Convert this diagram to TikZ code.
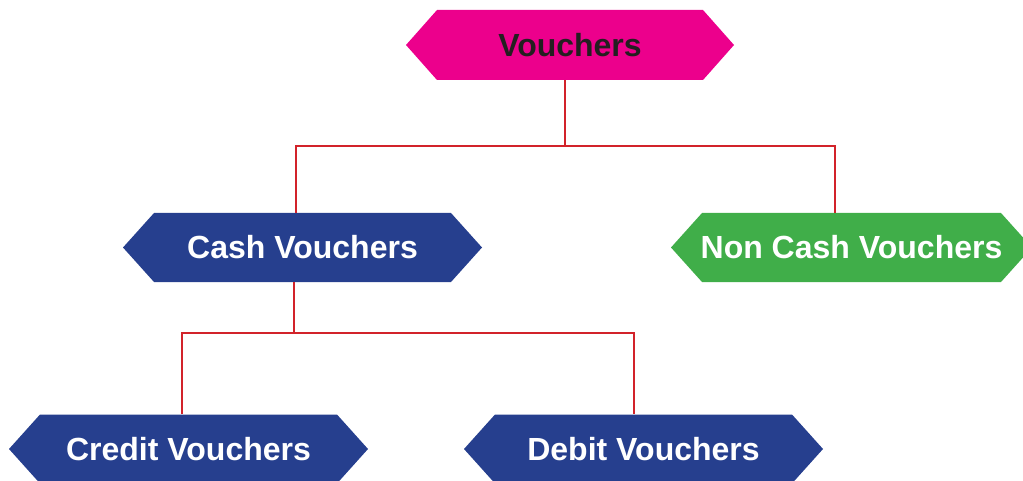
\documentclass[tikz,border=0pt]{standalone}
\usepackage{fontspec}
\setmainfont{Liberation Sans}
\definecolor{vmag}{RGB}{236,0,140}
\definecolor{vblue}{RGB}{38,63,142}
\definecolor{vgreen}{RGB}{64,174,73}
\definecolor{vred}{RGB}{210,35,42}
\definecolor{vdark}{RGB}{35,31,32}
\tikzset{
  hexbox/.style={shape=rectangle, inner sep=0pt, minimum height=69pt,
    font=\fontsize{32}{32}\selectfont\bfseries, text=white,
    path picture={\fill[#1]
      ([xshift=31pt]path picture bounding box.north west) --
      ([xshift=-31pt]path picture bounding box.north east) --
      (path picture bounding box.east) --
      ([xshift=-31pt]path picture bounding box.south east) --
      ([xshift=31pt]path picture bounding box.south west) --
      (path picture bounding box.west) -- cycle;}},
  conn/.style={draw=vred, line width=2.2pt}
}
\begin{document}
\begin{tikzpicture}[x=1pt,y=-1pt]
\useasboundingbox (0,0) rectangle (1023,481);
\node[hexbox=vmag, minimum width=328pt, minimum height=70pt, text=vdark] (v) at (570,45) {Vouchers};
\node[hexbox=vblue, minimum width=359pt] (cash) at (302.5,247.5) {Cash Vouchers};
\node[hexbox=vgreen, minimum width=361pt] (nc) at (851.5,247.5) {Non Cash Vouchers};
\node[hexbox=vblue, minimum width=359pt] (cr) at (188.5,449) {Credit Vouchers};
\node[hexbox=vblue, minimum width=359pt] (db) at (643.5,449) {Debit Vouchers};
\coordinate (j1) at (565,146);
\coordinate (j2) at (294,333);
\draw[conn] (j1 |- v.south) -- (j1);
\draw[conn] ([xshift=-6.5pt]cash.north) |- (j1) -| ([xshift=-16.5pt]nc.north);
\draw[conn] (j2 |- cash.south) -- (j2);
\draw[conn] ([xshift=-6.5pt]cr.north) |- (j2) -| ([xshift=-9.5pt]db.north);
\end{tikzpicture}
\end{document}
